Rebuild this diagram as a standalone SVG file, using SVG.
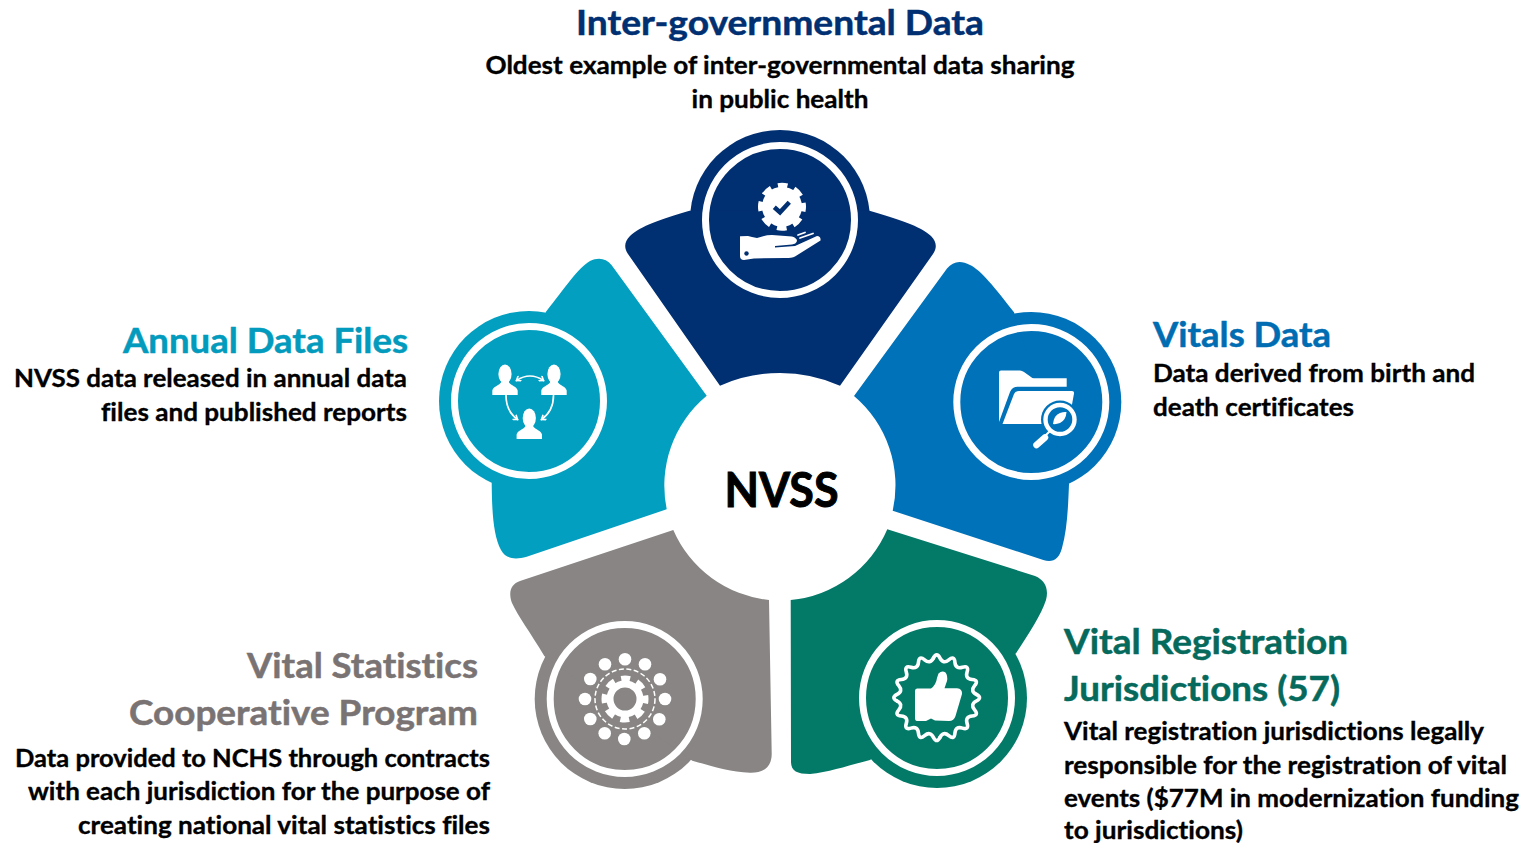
<svg xmlns="http://www.w3.org/2000/svg" width="1526" height="843" viewBox="0 0 1526 843">
<style>
text{font-family:Lato,Carlito,"Open Sans","Liberation Sans",sans-serif;font-weight:700;font-variant-ligatures:none}
.h{font-size:35px;stroke-width:.5}
.b{font-size:25px;fill:#000;stroke:#000;stroke-width:.35}
.e{text-anchor:end}
.m{text-anchor:middle}
.ring{fill:none;stroke:#fff;stroke-width:7}
.w{fill:#fff}
.ln{fill:none;stroke:#fff;stroke-linecap:round}
.navy{fill:#002F72}.teal{fill:#029FC0}.blue{fill:#0072B9}.gray{fill:#888584}.green{fill:#037A68}
text.navy{stroke:#002F72}text.teal{fill:#029BBD;stroke:#029BBD}text.blue{fill:#006DB3;stroke:#006DB3}text.green{fill:#05695B;stroke:#05695B}
.tgray{fill:#7A7373;stroke:#7A7373}
</style>
<defs>
<marker id="ah" markerWidth="7" markerHeight="7" refX="5" refY="3.5" orient="auto-start-reverse" markerUnits="userSpaceOnUse"><path d="M1,.5 L5,3.5 L1,6.5" fill="none" stroke="#fff" stroke-width="1.6"/></marker>
<g id="person"><ellipse cx="0" cy="9.5" rx="6.6" ry="9.5"/><path d="M-4,15 L-4,18 C-6,21 -12,22 -12.7,26 L-12.7,30.5 L12.7,30.5 L12.7,26 C12,22 6,21 4,18 L4,15 Z"/></g>
<path id="wave" d="M-3.3,-39.65 Q0,-46 3.3,-39.65 Q6.6,-33.3 12.1,-37.9 Q17.6,-42.5 18.25,-35.4 Q18.9,-28.3 25.7,-30.4 Q32.5,-32.5 30.4,-25.7 Q28.3,-18.9 35.4,-18.25 Q42.5,-17.6 37.9,-12.1 Q33.3,-6.6 39.65,-3.3" fill="none" stroke="#fff" stroke-width="3.6" stroke-linecap="round"/>
</defs>
<rect width="1526" height="843" fill="#fff"/>

<g id="connectors"/>

<g id="node-intergovernmental">
<circle class="navy" cx="780" cy="220" r="90"/>
<path class="navy" d="M689.5,210.7 C662,219 640,226 630,236 C624,242 624,248 628,254 L720,385.7 A148,148 0 0 1 840,385.7 L933,254 C937,248 937,242 931,236 C921,226 897,219 869.5,210.7 Z"/>
<circle class="ring" cx="780" cy="220" r="74.5"/>
<circle cx="782" cy="206.7" r="20" class="w"/>
<circle cx="782" cy="206.7" r="21" fill="none" stroke="#fff" stroke-width="6" stroke-dasharray="9.5 7" stroke-dashoffset="4.75"/>
<path d="M774.3,207.3 L780,212.3 L789.3,202.3" fill="none" stroke="#002F72" stroke-width="4.5"/>
<path class="w" d="M740,236.5 Q739,236 748,236 L752,237 L757,238 Q765,235 772,235 L792,236.5 Q797,238 797,241 Q796,244 792,244.5 L775,246 L775,247.5 L795,246 L817,236 Q821,236 820.5,240.5 L795,256.5 Q792,258 785,258 L754,258.5 L744,260 Q740,260 740,256 Z"/>
<circle cx="746.5" cy="253.5" r="2.2" fill="#002F72"/>
<path class="ln" stroke-width="1.8" d="M798,235 L805,232.5 M800,238 L813,233.5"/>
</g>

<g id="node-annual-data-files">
<circle class="teal" cx="529" cy="401" r="90"/>
<path class="teal" d="M546,311.7 C565,288 578,268 590,261 C598,257 606,258 611.5,265 L706.7,395.7 A117,117 0 0 0 666.7,509.3 L526.7,556.7 C515,560 506,559 501,550 C493,535 492,510 491.7,483.3 Z"/>
<circle class="ring" cx="529" cy="401" r="74.5"/>
<use href="#person" x="505" y="364.5" class="w"/>
<use href="#person" x="554" y="364.5" class="w"/>
<use href="#person" x="529.3" y="408.5" class="w"/>
<path class="ln" stroke-width="1.7" marker-start="url(#ah)" marker-end="url(#ah)" d="M516.5,380.5 Q530,371.5 543.5,380.5"/>
<path class="ln" stroke-width="1.7" marker-end="url(#ah)" d="M506,395.5 Q506,411 517.5,419.5"/>
<path class="ln" stroke-width="1.7" marker-end="url(#ah)" d="M553.5,395.5 Q553.5,411 541.5,419.5"/>
</g>

<g id="node-vitals-data">
<circle class="blue" cx="1031.3" cy="402" r="90"/>
<path class="blue" d="M1014,312.3 C995,288 981,270 970,265 C961,260 953,261 947,268.5 L854,396 A117,117 0 0 1 892.7,510.7 L1043.3,560 C1053,563 1059,559 1062,548 C1067,530 1068,510 1069,484.3 Z"/>
<circle class="ring" cx="1031.3" cy="402" r="74.5"/>
<path class="w" d="M1001,370.5 L1020,370.5 Q1022,370.5 1024,372 L1031,377 Q1032,378.3 1034,378.3 L1066.7,378.3 L1066.7,386.7 L1018,386.7 Q1012,386.7 1010,392 L999,422 L999,372.5 Q999,370.5 1001,370.5 Z"/>
<path class="w" d="M1019,391 L1072,391 Q1074.5,391 1074,393.5 L1071,410 L1052,424 L1002.5,424 L1014,394 Q1015,391 1019,391 Z"/>
<circle cx="1060" cy="419.5" r="19" class="blue"/>
<circle cx="1060" cy="419.5" r="14.5" fill="none" stroke="#fff" stroke-width="4.4"/>
<path class="w" d="M1053,424 Q1054,415 1060,413 Q1064,411.5 1066.5,412 Q1066,420 1060,423 Q1056,424.5 1053,424 Z"/>
<path class="ln" stroke-width="2" d="M1050,431 L1046,435"/>
<path class="ln" stroke-width="6.5" d="M1045,437.5 L1036.5,445"/>
</g>

<g id="node-cooperative-program">
<circle class="gray" cx="624.7" cy="699" r="90"/>
<path class="gray" d="M544.3,656 C530,632 518,616 512,603 C508,592 511,584 520,581 L673.3,530 A117,117 0 0 0 769,600 L771.7,753 C772,766 765,773 750,772.7 C730,772 715,767 692.3,760.7 Z"/>
<circle class="ring" cx="624.7" cy="699" r="74.5"/>
<g class="w">
<circle cx="625" cy="659.3" r="6.3"/><circle cx="645" cy="664.3" r="6.3"/><circle cx="660" cy="679.3" r="6.3"/><circle cx="665" cy="699" r="6.3"/><circle cx="659.3" cy="719.3" r="6.3"/><circle cx="644.3" cy="733.3" r="6.3"/><circle cx="624.3" cy="739" r="6.3"/><circle cx="604.7" cy="733.3" r="6.3"/><circle cx="590.3" cy="719" r="6.3"/><circle cx="585" cy="699" r="6.3"/><circle cx="590.3" cy="679" r="6.3"/><circle cx="605" cy="664.3" r="6.3"/>
</g>
<circle cx="625" cy="699" r="30" fill="none" stroke="#fff" stroke-width="1.5" stroke-dasharray="5 2.5"/>
<circle cx="625" cy="699" r="20.5" fill="none" stroke="#fff" stroke-width="6" stroke-dasharray="9 7.1" stroke-dashoffset="4.5"/>
<circle cx="625" cy="699" r="15" fill="none" stroke="#fff" stroke-width="7"/>
</g>

<g id="node-vital-registration">
<circle class="green" cx="937" cy="698" r="90"/>
<path class="green" d="M1016,653.3 C1030,632 1041,615 1046,600 C1049,589 1045,580 1035,576 L887.3,529.3 A117,117 0 0 1 790.7,600 L791,761.7 C791,771 797,774 810,774 C830,772 850,765 870,760 Z"/>
<circle class="ring" cx="937" cy="698" r="74.5"/>
<g transform="translate(936.7 697.7)">
<use href="#wave"/><use href="#wave" transform="rotate(90)"/><use href="#wave" transform="rotate(180)"/><use href="#wave" transform="rotate(270)"/>
</g>
<path class="w" d="M917,688.5 L931,688.5 Q936,685 937,678 L938.5,673.5 Q942,670 945.5,672.5 Q948,676 947,681 L944.5,688.3 L957,688.3 Q962.5,689 962,694 L955.5,716 Q954,721 949,721 L935,720.5 L931,718.5 L926,721 L917,721 Q915,721 915,718 L915,691 Q915,688.5 917,688.5 Z"/>
</g>

<g id="node-nvss">
<text x="781.5" y="507" class="m" font-size="47" textLength="114" lengthAdjust="spacingAndGlyphs" fill="#000" stroke="#000" stroke-width="1">NVSS</text>
</g>

<g id="label-intergovernmental">
<text x="780" y="35" class="h m navy" textLength="408" lengthAdjust="spacingAndGlyphs">Inter-governmental Data</text>
<text x="780" y="74" class="b m" textLength="589" lengthAdjust="spacingAndGlyphs">Oldest example of inter-governmental data sharing</text>
<text x="780" y="108" class="b m" textLength="177" lengthAdjust="spacingAndGlyphs">in public health</text>
</g>
<g id="label-annual">
<text x="408" y="353" class="h e teal" textLength="285" lengthAdjust="spacingAndGlyphs">Annual Data Files</text>
<text x="407" y="387" class="b e" textLength="393" lengthAdjust="spacingAndGlyphs">NVSS data released in annual data</text>
<text x="407" y="421" class="b e" textLength="306" lengthAdjust="spacingAndGlyphs">files and published reports</text>
</g>
<g id="label-vitals">
<text x="1153" y="347" class="h blue" textLength="178" lengthAdjust="spacingAndGlyphs">Vitals Data</text>
<text x="1153" y="382" class="b" textLength="322" lengthAdjust="spacingAndGlyphs">Data derived from birth and</text>
<text x="1153" y="416" class="b" textLength="201" lengthAdjust="spacingAndGlyphs">death certificates</text>
</g>
<g id="label-cooperative">
<text x="478" y="678" class="h e tgray" textLength="231" lengthAdjust="spacingAndGlyphs">Vital Statistics</text>
<text x="478" y="725" class="h e tgray" textLength="349" lengthAdjust="spacingAndGlyphs">Cooperative Program</text>
<text x="490" y="767" class="b e" textLength="475" lengthAdjust="spacingAndGlyphs">Data provided to NCHS through contracts</text>
<text x="490" y="800" class="b e" textLength="462" lengthAdjust="spacingAndGlyphs">with each jurisdiction for the purpose of</text>
<text x="490" y="834" class="b e" textLength="412" lengthAdjust="spacingAndGlyphs">creating national vital statistics files</text>
</g>
<g id="label-registration">
<text x="1064" y="654" class="h green" textLength="284" lengthAdjust="spacingAndGlyphs">Vital Registration</text>
<text x="1064" y="701" class="h green" textLength="276" lengthAdjust="spacingAndGlyphs">Jurisdictions (57)</text>
<text x="1064" y="740" class="b" textLength="420" lengthAdjust="spacingAndGlyphs">Vital registration jurisdictions legally</text>
<text x="1064" y="774" class="b" textLength="443" lengthAdjust="spacingAndGlyphs">responsible for the registration of vital</text>
<text x="1064" y="807" class="b" textLength="455" lengthAdjust="spacingAndGlyphs">events ($77M in modernization funding</text>
<text x="1064" y="839" class="b" textLength="179" lengthAdjust="spacingAndGlyphs">to jurisdictions)</text>
</g>
</svg>
